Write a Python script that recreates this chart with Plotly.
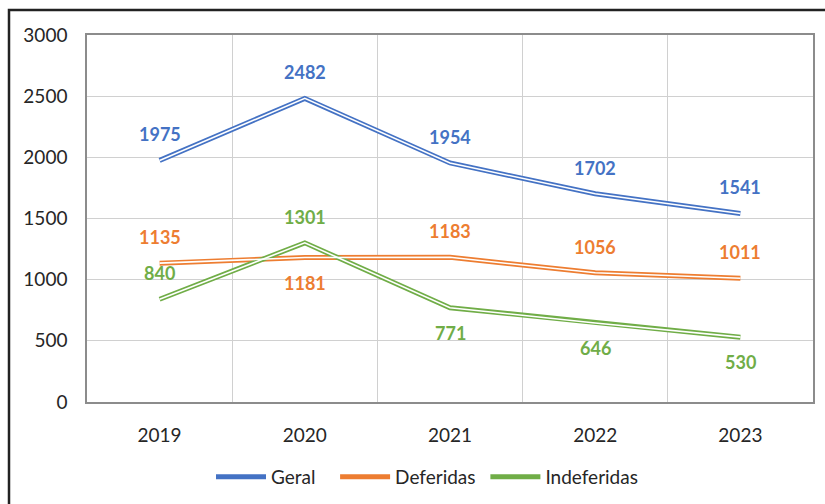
import plotly.graph_objects as go

years = ["2019", "2020", "2021", "2022", "2023"]
geral = [1975, 2482, 1954, 1702, 1541]
deferidas = [1135, 1181, 1183, 1056, 1011]
indeferidas = [840, 1301, 771, 646, 530]
y_ticks = [0, 500, 1000, 1500, 2000, 2500, 3000]

NB = "\u00a0"
series = [
    ("Geral", geral, "#4472C4", [-1, -1, -1, -1, -1], 3),
    ("Deferidas", deferidas, "#ED7D31", [-1, 1, -1, -1, -1], 1),
    ("Indeferidas", indeferidas, "#70AD47", [-1, -1, 1, 1, 1], 0),
]

xs = list(range(len(years)))
fig = go.Figure()
annotations = []
for name, vals, color, pos, pad in series:
    fig.add_trace(go.Scatter(x=xs, y=vals, mode="lines", name=name + NB * pad,
                             line=dict(color=color, width=5)))
for name, vals, color, pos, pad in series:
    fig.add_trace(go.Scatter(x=xs, y=vals, mode="lines", showlegend=False,
                             hoverinfo="skip", line=dict(color="white", width=1.6)))
    for xi, v, p in zip(xs, vals, pos):
        annotations.append(dict(x=xi, y=v, xref="x", yref="y", text=f"<b>{v}</b>",
                                showarrow=False, yshift=(-25 if p > 0 else 26),
                                font=dict(color=color, size=18, family="Lato")))

fig.update_layout(
    width=825, height=504,
    margin=dict(l=87, r=12, t=35, b=102, autoexpand=False),
    paper_bgcolor="white", plot_bgcolor="white",
    font=dict(family="Lato", size=19, color="#262626"),
    annotations=annotations,
    showlegend=True,
    legend=dict(orientation="h", x=427 / 825, xanchor="center", xref="container",
                y=(504 - 477) / 504, yanchor="middle", yref="container",
                font=dict(size=19, color="#262626"), itemwidth=50,
                traceorder="normal"),
    shapes=[dict(type="rect", xref="paper", yref="paper",
                 x0=(9 - 87) / 726, x1=(835 - 87) / 726,
                 y0=(402 - 515) / 367, y1=(402 - 10) / 367,
                 line=dict(color="#222222", width=2.5), layer="below")],
)
fig.update_xaxes(range=[-0.5, 4.5], tickvals=xs, ticktext=years, showgrid=False,
                 showline=True, linecolor="#8c8c8c", linewidth=1.5, mirror=True,
                 ticks="", ticklabelstandoff=15, zeroline=False,
                 minor=dict(tickvals=[0.5, 1.5, 2.5, 3.5], showgrid=True,
                            gridcolor="#d0d0d0", gridwidth=1.2))
fig.update_yaxes(range=[0, 3000], tickvals=y_ticks, showgrid=True, gridcolor="#d0d0d0",
                 gridwidth=1.2, showline=True, linecolor="#8c8c8c", linewidth=1.5,
                 mirror=True, ticks="", ticklabelstandoff=14, zeroline=False)

fig.write_html("out.html", config={"displayModeBar": False},
               post_script="document.body.style.margin='0';")
